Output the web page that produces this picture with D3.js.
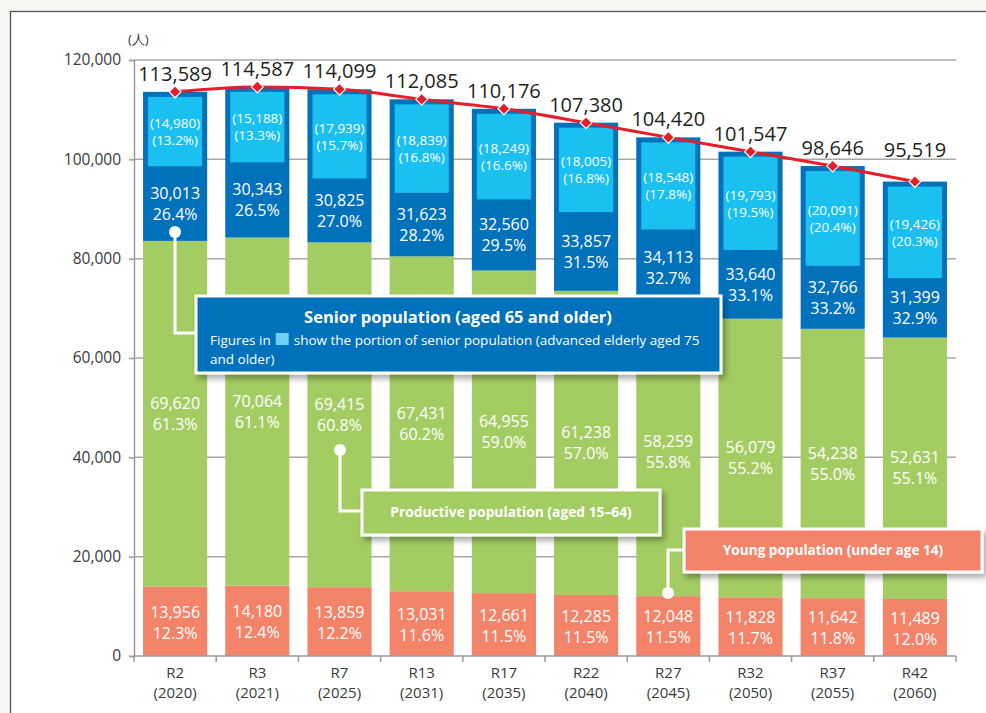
<!DOCTYPE html>
<html>
<head>
<meta charset="utf-8">
<script src="https://cdn.jsdelivr.net/npm/d3@7/dist/d3.min.js"></script>
<style>
  html, body { margin: 0; padding: 0; background: #f6f7f3; }
  svg { display: block; font-family: "Open Sans", "Noto Sans", sans-serif; }
</style>
</head>
<body>
<div id="main_content"></div>
<script>
var width = 986, height = 713;

// data
var categories = ['R2', 'R3', 'R7', 'R13', 'R17', 'R22', 'R27', 'R32', 'R37', 'R42'];
var years = ['2020', '2021', '2025', '2031', '2035', '2040', '2045', '2050', '2055', '2060'];
var totals = [113589, 114587, 114099, 112085, 110176, 107380, 104420, 101547, 98646, 95519];
var young = [13956, 14180, 13859, 13031, 12661, 12285, 12048, 11828, 11642, 11489];
var youngPct = ['12.3', '12.4', '12.2', '11.6', '11.5', '11.5', '11.5', '11.7', '11.8', '12.0'];
var productive = [69620, 70064, 69415, 67431, 64955, 61238, 58259, 56079, 54238, 52631];
var productivePct = ['61.3', '61.1', '60.8', '60.2', '59.0', '57.0', '55.8', '55.2', '55.0', '55.1'];
var senior = [30013, 30343, 30825, 31623, 32560, 33857, 34113, 33640, 32766, 31399];
var seniorPct = ['26.4', '26.5', '27.0', '28.2', '29.5', '31.5', '32.7', '33.1', '33.2', '32.9'];
var elderly75 = [14980, 15188, 17939, 18839, 18249, 18005, 18548, 19793, 20091, 19426];
var elderly75Pct = ['13.2', '13.3', '15.7', '16.8', '16.6', '16.8', '17.8', '19.5', '20.4', '20.3'];
var yTicks = [0, 20000, 40000, 60000, 80000, 100000, 120000];

var colors = {
  young: '#f3846a',
  productive: '#a3cd62',
  senior: '#0071bb',
  elderly: '#19c0f0',
  line: '#e51f2a'
};

var fmt = d3.format(',');

var rows = categories.map(function(c, i) {
  return {
    cat: c, year: years[i], total: totals[i],
    young: young[i], productive: productive[i], senior: senior[i], elderly: elderly75[i],
    youngPct: youngPct[i], productivePct: productivePct[i], seniorPct: seniorPct[i], elderlyPct: elderly75Pct[i]
  };
});

var svg = d3.select('#main_content').append('svg')
  .attr('width', width)
  .attr('height', height);

var defs = svg.append('defs');
var shadow = defs.append('filter').attr('id', 'shadow')
  .attr('x', '-10%').attr('y', '-30%').attr('width', '125%').attr('height', '180%');
shadow.append('feDropShadow')
  .attr('dx', 3).attr('dy', 4).attr('stdDeviation', 3)
  .attr('flood-color', '#000').attr('flood-opacity', 0.35);

// frame
svg.append('rect')
  .attr('x', 10.5).attr('y', 11.5)
  .attr('width', width + 10).attr('height', height + 10)
  .attr('fill', '#fff')
  .attr('stroke', '#555')
  .attr('stroke-width', 1.3);

var x = d3.scaleBand()
  .domain(categories)
  .range([134, 956])
  .paddingInner(0.22)
  .paddingOuter(0.11);

var y = d3.scaleLinear()
  .domain([0, 120000])
  .range([656, 60]);

// grid + y axis
var yAxis = svg.append('g')
  .attr('transform', 'translate(134,0)')
  .call(d3.axisLeft(y).tickValues(yTicks).tickSize(5).tickPadding(8).tickFormat(fmt));
yAxis.select('.domain').attr('stroke', '#9a9a9a').attr('stroke-width', 1.5);
yAxis.selectAll('.tick line').attr('stroke', '#9a9a9a').attr('stroke-width', 1.5);
yAxis.selectAll('.tick text')
  .attr('font-size', 15.5)
  .attr('fill', '#3a3a3a')
  .attr('font-family', '"Open Sans", sans-serif');

svg.append('g').selectAll('line')
  .data(yTicks.filter(function(t) { return t > 0; }))
  .enter().append('line')
  .attr('x1', 134).attr('x2', 956)
  .attr('y1', function(d) { return y(d); })
  .attr('y2', function(d) { return y(d); })
  .attr('stroke', '#a8a8a8')
  .attr('stroke-width', 1.5);

svg.append('text')
  .attr('x', 128).attr('y', 44)
  .attr('font-size', 13)
  .attr('fill', '#333')
  .text('(人)');

// bars
var bar = svg.append('g').selectAll('g')
  .data(rows)
  .enter().append('g');

bar.append('rect')
  .attr('x', function(d) { return x(d.cat); })
  .attr('width', x.bandwidth())
  .attr('y', function(d) { return y(d.young); })
  .attr('height', function(d) { return y(0) - y(d.young); })
  .attr('fill', colors.young);

bar.append('rect')
  .attr('x', function(d) { return x(d.cat); })
  .attr('width', x.bandwidth())
  .attr('y', function(d) { return y(d.young + d.productive); })
  .attr('height', function(d) { return y(d.young) - y(d.young + d.productive); })
  .attr('fill', colors.productive);

bar.append('rect')
  .attr('x', function(d) { return x(d.cat); })
  .attr('width', x.bandwidth())
  .attr('y', function(d) { return y(d.total); })
  .attr('height', function(d) { return y(d.young + d.productive) - y(d.total); })
  .attr('fill', colors.senior);

bar.append('rect')
  .attr('x', function(d) { return x(d.cat) + 5; })
  .attr('width', x.bandwidth() - 10)
  .attr('y', function(d) { return y(d.total) + 5; })
  .attr('height', function(d) { return y(d.total - d.elderly) - y(d.total) - 5; })
  .attr('fill', colors.elderly);

// labels inside bars
function twoLines(sel, top, bottom, cy, size, gap) {
  var t = sel.append('text')
    .attr('text-anchor', 'middle')
    .attr('fill', '#fff')
    .attr('font-size', size);
  t.append('tspan')
    .attr('x', function(d) { return x(d.cat) + x.bandwidth() / 2; })
    .attr('y', function(d) { return cy(d) - gap / 2 + size * 0.36; })
    .text(top);
  t.append('tspan')
    .attr('x', function(d) { return x(d.cat) + x.bandwidth() / 2; })
    .attr('y', function(d) { return cy(d) + gap / 2 + size * 0.36; })
    .text(bottom);
}

twoLines(bar,
  function(d) { return fmt(d.young); },
  function(d) { return d.youngPct + '%'; },
  function(d) { return (y(0) + y(d.young)) / 2 + 1; }, 16, 21);

twoLines(bar,
  function(d) { return fmt(d.productive); },
  function(d) { return d.productivePct + '%'; },
  function(d) { return (y(d.young) + y(d.young + d.productive)) / 2; }, 16, 21);

twoLines(bar,
  function(d) { return fmt(d.senior); },
  function(d) { return d.seniorPct + '%'; },
  function(d) { return (y(d.total - d.elderly) + y(d.young + d.productive)) / 2; }, 16, 21);

twoLines(bar,
  function(d) { return '(' + fmt(d.elderly) + ')'; },
  function(d) { return '(' + d.elderlyPct + '%)'; },
  function(d) { return (y(d.total) + 5 + y(d.total - d.elderly)) / 2; }, 13.5, 17);

// x axis
var xAxis = svg.append('g')
  .attr('transform', 'translate(0,656)');
xAxis.append('line')
  .attr('x1', 134).attr('x2', 956)
  .attr('stroke', '#9a9a9a').attr('stroke-width', 1.5);
xAxis.selectAll('.tk')
  .data(d3.range(categories.length + 1))
  .enter().append('line')
  .attr('class', 'tk')
  .attr('x1', function(i) { return 134 + i * x.step(); })
  .attr('x2', function(i) { return 134 + i * x.step(); })
  .attr('y1', 0).attr('y2', 6)
  .attr('stroke', '#9a9a9a').attr('stroke-width', 1.5);
xAxis.selectAll('.lbl')
  .data(rows)
  .enter().append('text')
  .attr('class', 'lbl')
  .attr('text-anchor', 'middle')
  .attr('font-size', 15)
  .attr('fill', '#3a3a3a')
  .attr('x', function(d) { return x(d.cat) + x.bandwidth() / 2; })
  .attr('y', 22)
  .text(function(d) { return d.cat; });
xAxis.selectAll('.yr')
  .data(rows)
  .enter().append('text')
  .attr('class', 'yr')
  .attr('text-anchor', 'middle')
  .attr('font-size', 15)
  .attr('fill', '#3a3a3a')
  .attr('x', function(d) { return x(d.cat) + x.bandwidth() / 2; })
  .attr('y', 42)
  .text(function(d) { return '(' + d.year + ')'; });

// total line
var line = d3.line()
  .x(function(d) { return x(d.cat) + x.bandwidth() / 2; })
  .y(function(d) { return y(d.total); })
  .curve(d3.curveMonotoneX);

svg.append('path')
  .datum(rows)
  .attr('d', line)
  .attr('fill', 'none')
  .attr('stroke', colors.line)
  .attr('stroke-width', 3);

svg.append('g').selectAll('path')
  .data(rows)
  .enter().append('path')
  .attr('d', d3.symbol().type(d3.symbolDiamond2).size(90))
  .attr('transform', function(d) {
    return 'translate(' + (x(d.cat) + x.bandwidth() / 2) + ',' + y(d.total) + ')';
  })
  .attr('fill', colors.line)
  .attr('stroke', '#fff')
  .attr('stroke-width', 1.2);

svg.append('g').selectAll('text')
  .data(rows)
  .enter().append('text')
  .attr('text-anchor', 'middle')
  .attr('font-size', 20)
  .attr('font-weight', 500)
  .attr('fill', '#231f20')
  .attr('x', function(d) { return x(d.cat) + x.bandwidth() / 2; })
  .attr('y', function(d) { return Math.min(y(d.total) - 18, 150) + 7; })
  .text(function(d) { return fmt(d.total); });

// callouts
function callout(dot, path, box, fill) {
  svg.append('path')
    .attr('d', d3.line()(path))
    .attr('fill', 'none')
    .attr('stroke', '#fff')
    .attr('stroke-width', 3);
  svg.append('circle')
    .attr('cx', dot[0]).attr('cy', dot[1]).attr('r', 6)
    .attr('fill', '#fff');
  svg.append('rect')
    .attr('x', box[0]).attr('y', box[1])
    .attr('width', box[2]).attr('height', box[3])
    .attr('fill', fill)
    .attr('stroke', '#fff')
    .attr('stroke-width', 3)
    .attr('filter', 'url(#shadow)');
}

callout([175, 232], [[175, 232], [175, 333], [196, 333]], [196, 296, 525, 77], colors.senior);
svg.append('text')
  .attr('x', 458).attr('y', 323)
  .attr('text-anchor', 'middle')
  .attr('font-size', 16.5)
  .attr('font-weight', 700)
  .attr('fill', '#fff')
  .text('Senior population (aged 65 and older)');

var sub1 = svg.append('text')
  .attr('x', 210).attr('y', 345)
  .attr('font-size', 13.5)
  .attr('fill', '#fff')
  .text('Figures in');
var sx = 210 + sub1.node().getComputedTextLength() + 5;
svg.append('rect')
  .attr('x', sx).attr('y', 333)
  .attr('width', 13).attr('height', 12)
  .attr('fill', '#6fd0f6');
svg.append('text')
  .attr('x', sx + 18).attr('y', 345)
  .attr('font-size', 13.5)
  .attr('fill', '#fff')
  .text('show the portion of senior population (advanced elderly aged 75');
svg.append('text')
  .attr('x', 210).attr('y', 364)
  .attr('font-size', 13.5)
  .attr('fill', '#fff')
  .text('and older)');

callout([340, 450], [[340, 450], [340, 511], [362, 511]], [362, 490, 298, 45], colors.productive);
svg.append('text')
  .attr('x', 511).attr('y', 517)
  .attr('text-anchor', 'middle')
  .attr('font-size', 13.8)
  .attr('font-weight', 700)
  .attr('fill', '#fff')
  .text('Productive population (aged 15–64)');

callout([668, 593], [[668, 593], [668, 550], [684, 550]], [684, 529, 298, 43], colors.young);
svg.append('text')
  .attr('x', 833).attr('y', 555)
  .attr('text-anchor', 'middle')
  .attr('font-size', 13.6)
  .attr('font-weight', 700)
  .attr('fill', '#fff')
  .text('Young population (under age 14)');
</script>
</body>
</html>
